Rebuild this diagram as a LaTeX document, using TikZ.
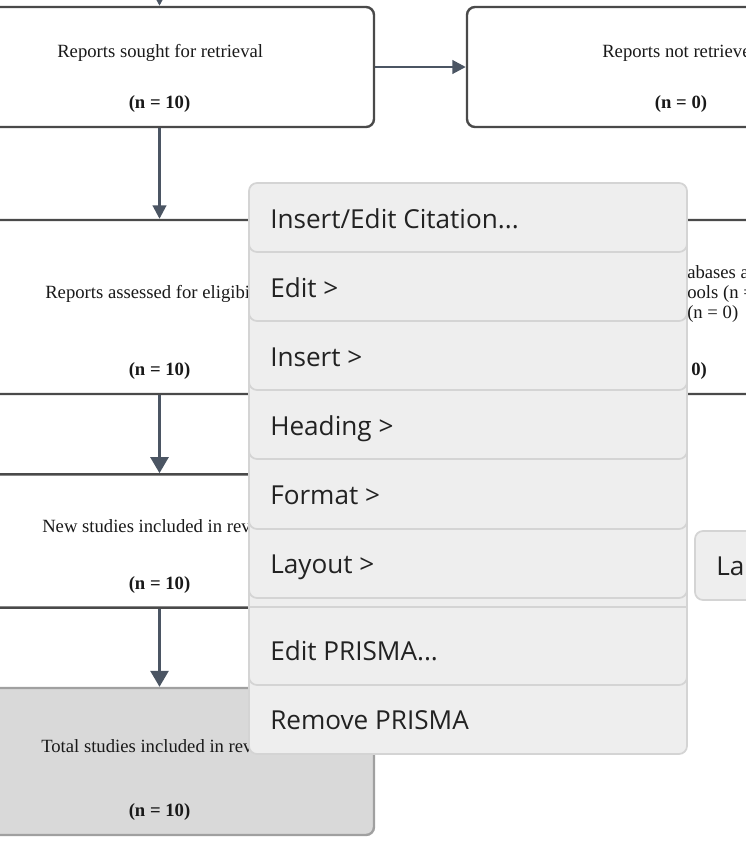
\documentclass[tikz,border=0pt]{standalone}
\usepackage{fontspec}
\setmainfont{Liberation Serif}
\newfontfamily\uifont{Open Sans}
\usetikzlibrary{arrows.meta}
\definecolor{boxline}{HTML}{4A4A4A}
\definecolor{arrowc}{HTML}{4B5563}
\definecolor{totalfill}{HTML}{D9D9D9}
\definecolor{totalline}{HTML}{A0A0A0}
\definecolor{menufill}{HTML}{EEEEEE}
\definecolor{menuline}{HTML}{D4D4D4}
\definecolor{menutext}{HTML}{222222}
\tikzset{
  x=0.75pt,y=-0.75pt,
  flowbox/.style={draw=boxline,line width=1.8pt,rounded corners=6pt,fill=white,inner sep=0pt},
  label/.style={inner sep=0pt,anchor=base west,font=\fontsize{14pt}{16pt}\selectfont,text=black!90},
  count/.style={label,anchor=base,font=\fontsize{14pt}{16pt}\selectfont\bfseries},
  smallarrow/.style={draw=arrowc,line width=2pt,-{Triangle[length=10pt,width=10pt]}},
  bigarrow/.style={draw=arrowc,line width=2pt,-{Triangle[length=12pt,width=13.5pt]}},
  itemedge/.style={draw=menuline,line width=1.3pt,rounded corners=6pt},
  menutxt/.style={inner sep=0pt,anchor=base west,text=menutext,font=\uifont\fontsize{19.6pt}{22pt}\selectfont},
}
\begin{document}
\begin{tikzpicture}
\useasboundingbox (0,0) rectangle (746,854);
\clip (0,0) rectangle (746,854);
\fill[white] (0,0) rectangle (746,854);
% boxes
\node[flowbox,minimum width=321.75pt,minimum height=90pt] (sought) at (159.5,67) {};
\node[flowbox,minimum width=322.5pt,minimum height=90pt] (notret) at (682,67) {};
\node[flowbox,minimum width=321.75pt,minimum height=130.5pt] (assessed) at (159.5,307) {};
\node[flowbox,minimum width=322.5pt,minimum height=130.5pt] (excluded) at (682,307) {};
\node[flowbox,minimum width=321.75pt,minimum height=100pt] (newst) at (159.5,541) {};
\node[flowbox,draw=totalline,fill=totalfill,minimum width=321.75pt,minimum height=110.25pt] (total) at (159.5,761.5) {};
\coordinate (above) at (159.5,-14);
% connectors
\draw[smallarrow] (above) -- (sought);
\draw[smallarrow] (sought) -- (notret);
\draw[smallarrow] (sought) -- (assessed);
\draw[bigarrow] (assessed) -- (newst);
\draw[bigarrow] (newst) -- (total);
% texts
\node[label] (t1) at (57,57) {Reports sought for retrieval};
\node[count] (n1) at (159.5,108) {(n = 10)};
\node[label] (t2) at (602,57) {Reports not retrieve};
\node[count] (n2) at (681,108) {(n = 0)};
\node[label] (t3) at (45,298) {Reports assessed for eligibi};
\node[count] (n3) at (159.5,375) {(n = 10)};
\node[label] (t4a) at (687,278) {abases a};
\node[label] (t4b) at (687,298) {ools (n =};
\node[label] (t4c) at (687,318) {(n = 0)};
\node[label,font=\fontsize{14pt}{16pt}\selectfont\bfseries] (n4) at (691,375) {0)};
\node[label] (t5) at (42,532) {New studies included in rev};
\node[count] (n5) at (159.5,589) {(n = 10)};
\node[label] (t6) at (41,752) {Total studies included in rev};
\node[count] (n6) at (159.5,816) {(n = 10)};
% menu
\draw[draw=menuline,line width=1.3pt,fill=menufill,rounded corners=6pt] (249,183) rectangle (687,754);
\foreach \t/\b in {200/252,252/321,321/390,390/459,459/529,529/598,607/685}
  \draw[itemedge] (249,\t) -- (249,\b) -- (687,\b) -- (687,\t);
\draw[draw=menuline,line width=1.3pt] (249,607) -- (687,607);
\node[menutxt] (m1) at (270,228) {Insert/Edit Citation...};
\node[menutxt] (m2) at (270,297) {Edit >};
\node[menutxt] (m3) at (270,366) {Insert >};
\node[menutxt] (m4) at (270,435) {Heading >};
\node[menutxt] (m5) at (270,504) {Format >};
\node[menutxt] (m6) at (270,573) {Layout >};
\node[menutxt] (m7) at (270,660) {Edit PRISMA...};
\node[menutxt] (m8) at (270,729) {Remove PRISMA};
% side button
\draw[draw=menuline,line width=1.3pt,fill=menufill,rounded corners=6pt] (695,531) rectangle (800,600);
\node[menutxt] (la) at (716,575) {La};
\end{tikzpicture}
\end{document}
